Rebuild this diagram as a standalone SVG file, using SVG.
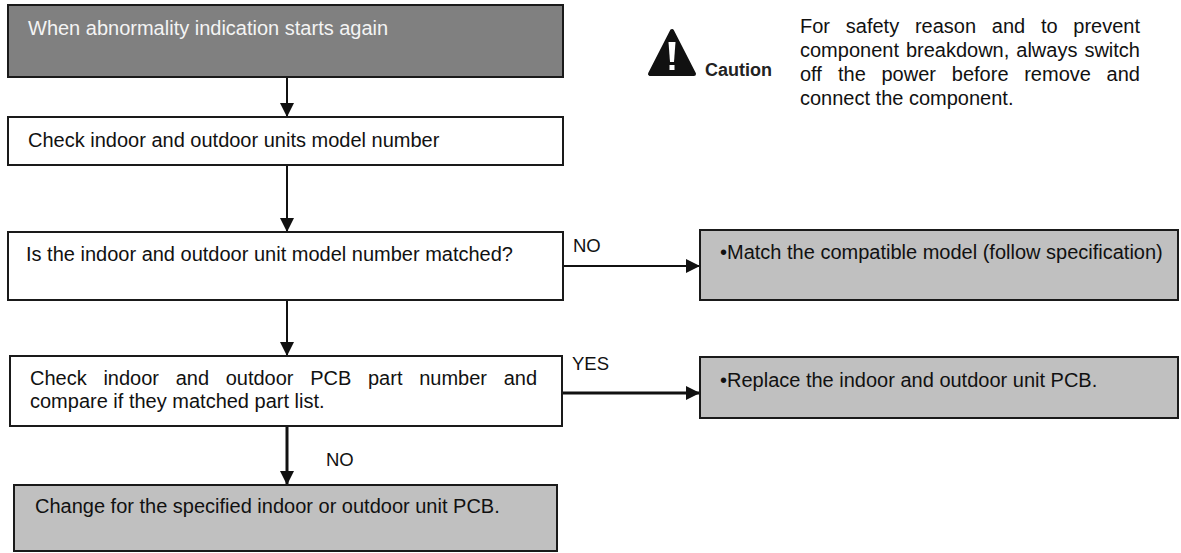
<svg xmlns="http://www.w3.org/2000/svg" width="1181" height="553" viewBox="0 0 1181 553">
<defs>
<style>
text{font-family:"Liberation Sans",Arial,sans-serif;font-size:20px;fill:#111}
.lbl{font-size:18.5px}
.box{stroke:#1a1a1a;stroke-width:2}
.w{fill:#ffffff}
.g{fill:#c0c0c0}
.d{fill:#808080}
.conn{stroke:#111;stroke-width:2;fill:none}
.thick{stroke-width:3}
</style>
<marker id="ah" viewBox="0 0 14 14" refX="14" refY="7" markerWidth="14" markerHeight="14" markerUnits="userSpaceOnUse" orient="auto">
<path d="M0,0 L14,7 L0,14 Z" fill="#111"/>
</marker>
</defs>
<rect width="1181" height="553" fill="#ffffff"/>

<g id="connectors">
<line class="conn" x1="287" y1="77" x2="287" y2="117" marker-end="url(#ah)"/>
<line class="conn" x1="287" y1="165" x2="287" y2="232" marker-end="url(#ah)"/>
<line class="conn" x1="287" y1="300" x2="287" y2="356" marker-end="url(#ah)"/>
<line class="conn thick" x1="287" y1="426" x2="287" y2="485" marker-end="url(#ah)"/>
<line class="conn" x1="563" y1="266" x2="700" y2="266" marker-end="url(#ah)"/>
<line class="conn thick" x1="562" y1="393" x2="700" y2="393" marker-end="url(#ah)"/>
<text class="lbl" x="573" y="252">NO</text>
<text class="lbl" x="572" y="370">YES</text>
<text class="lbl" x="326" y="466">NO</text>
</g>

<g id="start">
<rect class="box d" x="8" y="5" width="555" height="72"/>
<text x="28" y="35" style="fill:#f4f4f4">When abnormality indication starts again</text>
</g>

<g id="check-model">
<rect class="box w" x="8" y="117" width="555" height="48"/>
<text x="28" y="147">Check indoor and outdoor units model number</text>
</g>

<g id="model-matched">
<rect class="box w" x="8" y="232" width="555" height="68"/>
<text x="26" y="261">Is the indoor and outdoor unit model number matched?</text>
</g>

<g id="match-model">
<rect class="box g" x="700" y="230" width="478" height="70"/>
<text x="720" y="259">•Match the compatible model (follow specification)</text>
</g>

<g id="check-pcb">
<rect class="box w" x="10" y="356" width="552" height="70"/>
<text y="385"><tspan x="30">Check</tspan><tspan x="103.4">indoor</tspan><tspan x="175.7">and</tspan><tspan x="225.7">outdoor</tspan><tspan x="310.2">PCB</tspan><tspan x="368">part</tspan><tspan x="419.2">number</tspan><tspan x="503.7">and</tspan></text>
<text x="30" y="408">compare if they matched part list.</text>
</g>

<g id="replace-pcb">
<rect class="box g" x="700" y="357" width="478" height="61"/>
<text x="720" y="387">•Replace the indoor and outdoor unit PCB.</text>
</g>

<g id="change-pcb">
<rect class="box g" x="14" y="485" width="543" height="66"/>
<text x="35" y="513">Change for the specified indoor or outdoor unit PCB.</text>
</g>

<g id="caution">
<path d="M672,31 L650,74 L694,74 Z" fill="#111" stroke="#111" stroke-width="4" stroke-linejoin="round"/>
<path d="M668.5,42 L675.5,42 L674,62 L670,62 Z" fill="#ffffff"/>
<rect x="669.5" y="65" width="5" height="5" fill="#ffffff"/>
<text x="705" y="76" style="font-weight:bold;font-size:18px;fill:#222">Caution</text>
<text y="33"><tspan x="800">For</tspan><tspan x="845.8">safety</tspan><tspan x="914.9">reason</tspan><tspan x="991.8">and</tspan><tspan x="1040.9">to</tspan><tspan x="1073.3">prevent</tspan></text>
<text y="57"><tspan x="800">component</tspan><tspan x="905.9">breakdown,</tspan><tspan x="1016.3">always</tspan><tspan x="1084.4">switch</tspan></text>
<text y="81"><tspan x="800">off</tspan><tspan x="838">the</tspan><tspan x="881.5">power</tspan><tspan x="951.8">before</tspan><tspan x="1024.2">remove</tspan><tspan x="1106.6">and</tspan></text>
<text x="800" y="105">connect the component.</text>
</g>
</svg>
